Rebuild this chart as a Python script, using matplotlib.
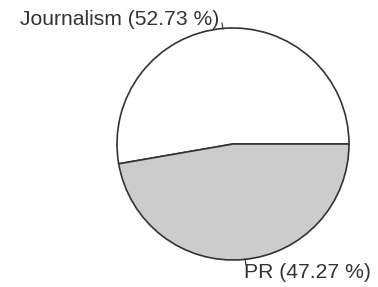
import matplotlib
matplotlib.use("Agg")
import matplotlib.pyplot as plt

categories = ["Journalism", "PR"]
values = [52.73, 47.27]
colors = ["#ffffff", "#cccccc"]

W, H = 378, 287
fig = plt.figure(figsize=(W / 100, H / 100), dpi=100)
fig.patch.set_facecolor("white")

cx, cy, r = 233, 144, 116
ax = fig.add_axes([(cx - r) / W, (H - cy - r) / H, 2 * r / W, 2 * r / H])
ax.pie(values, colors=colors, startangle=0, counterclock=True, radius=1,
       wedgeprops=dict(edgecolor="#333333", linewidth=1.2))
ax.set_xlim(-1, 1)
ax.set_ylim(-1, 1)
ax.set_aspect("auto")
ax.axis("off")

font = dict(family="Liberation Sans", fontsize=15.2, color="#333333")
fig.text(20 / W, 1 - 25 / H, f"{categories[0]} ({values[0]:.2f} %)", ha="left", va="baseline", **font)
fig.text(244 / W, 1 - 278 / H, f"{categories[1]} ({values[1]:.2f} %)", ha="left", va="baseline", **font)

# leader ticks
fig.add_artist(plt.Line2D([222 / W, 223 / W], [1 - 23 / H, 1 - 29 / H], color="#333333", lw=0.8))
fig.add_artist(plt.Line2D([245 / W, 246 / W], [1 - 259 / H, 1 - 265 / H], color="#333333", lw=0.8))

fig.savefig("out.png", dpi=100)
